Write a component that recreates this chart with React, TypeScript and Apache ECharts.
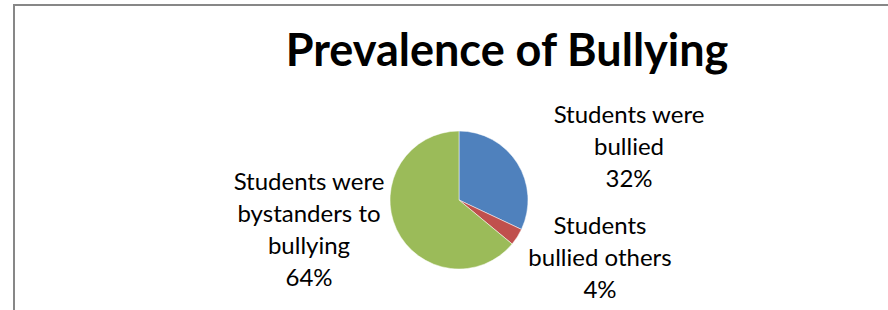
import React, { useEffect, useRef } from "react";
import * as echarts from "echarts";

const titleText = "Prevalence of Bullying";
const categories = ["Students were bullied", "Students bullied others", "Students were bystanders to bullying"];
const labelLines = [
  ["Students were", "bullied"],
  ["Students", "bullied others"],
  ["Students were", "bystanders to", "bullying"],
];
const values = [32, 4, 64];
const colors = ["#4F81BD", "#C0504D", "#9BBB59"];

const FONT = "Lato";

export default function App() {
  const ref = useRef<HTMLDivElement>(null);
  useEffect(() => {
    const chart = echarts.init(ref.current!, undefined, { renderer: "svg" });
    const labelPos = [
      { x: 629, y: 145 },
      { x: 600, y: 256 },
      { x: 309, y: 228 },
    ];
    chart.setOption({
      animation: false,
      backgroundColor: "#fff",
      title: {
        text: titleText,
        left: 502,
        top: 21,
        textAlign: "center",
        textStyle: { fontFamily: FONT, fontWeight: "bold", fontSize: 45, color: "#000" },
      },
      graphic: [
        {
          type: "polyline",
          shape: { points: [[14, 310], [14, 5], [888, 5]] },
          style: { stroke: "#878787", lineWidth: 2, fill: null },
          silent: true,
        },
      ],
      series: [
        {
          type: "pie",
          center: [459, 200],
          radius: 69,
          startAngle: 90,
          clockwise: true,
          data: categories.map((c, i) => ({ name: c, value: values[i], itemStyle: { color: colors[i] } })),
          itemStyle: { borderColor: "#fff", borderWidth: 0.5 },
          label: {
            show: true,
            fontFamily: FONT,
            fontSize: 24,
            lineHeight: 32,
            color: "#000",
            align: "center",
            formatter: (p: any) => labelLines[p.dataIndex].join("\n") + "\n" + p.value + "%",
          },
          labelLine: { show: false },
          labelLayout: (p: any) => ({
            x: labelPos[p.dataIndex].x,
            y: labelPos[p.dataIndex].y,
            align: "center",
            verticalAlign: "middle",
          }),
          emphasis: { disabled: true },
        },
      ],
    });
    return () => chart.dispose();
  }, []);
  return <div ref={ref} style={{ position: "absolute", left: 0, top: 0, width: 888, height: 310 }} />;
}
